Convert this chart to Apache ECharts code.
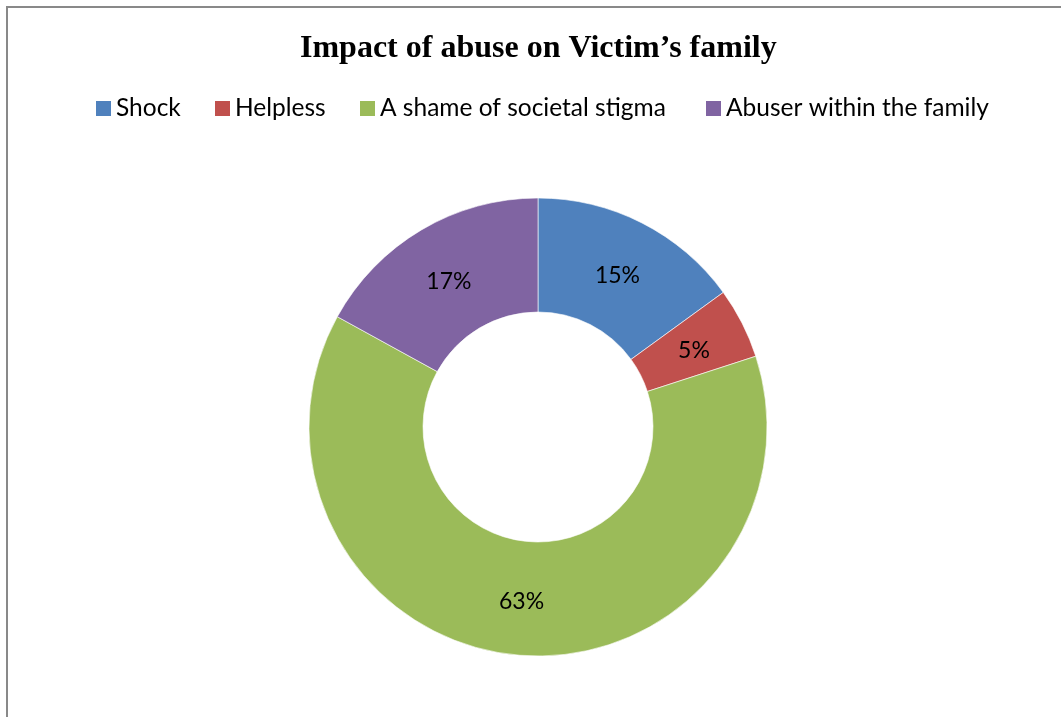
<!DOCTYPE html>
<html>
<head>
<meta charset="utf-8">
<style>
  html, body { margin: 0; padding: 0; background: #fff; }
  #chart { width: 1061px; height: 717px; }
</style>
<script src="https://cdn.jsdelivr.net/npm/echarts@6/dist/echarts.min.js"></script>
</head>
<body>
<div id="chart"></div>
<script>
// Responses on how abuse affected the victim's family (percent of respondents)
const categories = ['Shock', 'Helpless', 'A shame of societal stigma', 'Abuser within the family'];
const values = [15, 5, 63, 17];
const colors = ['#4F81BD', '#C0504D', '#9BBB59', '#8064A2'];
const titleText = 'Impact of abuse on Victim\u2019s family';

// left edge of each legend entry
const legendLefts = [96, 215, 360, 706];
// small vertical nudges for the in-ring percentage labels
const labelNudges = [5, 3, 0, 5];

const chart = echarts.init(document.getElementById('chart'), null, { renderer: 'canvas' });

const legends = categories.map((name, i) => ({
  data: [name],
  left: legendLefts[i],
  top: 96,
  padding: 0,
  icon: 'rect',
  itemWidth: 15,
  itemHeight: 15,
  itemGap: 6,
  itemStyle: { borderWidth: 0 },
  selectedMode: false,
  textStyle: { fontFamily: 'Lato', fontSize: 24.5, color: '#000' }
}));

chart.setOption({
  backgroundColor: '#fff',
  animation: false,
  color: colors,
  title: {
    text: titleText,
    left: 295,
    top: 28,
    textStyle: { fontFamily: 'Liberation Serif', fontWeight: 'bold', fontSize: 32, color: '#000' }
  },
  legend: legends,
  graphic: [{
    type: 'rect',
    shape: { x: 7, y: 7, width: 1200, height: 900 },
    style: { fill: null, stroke: '#898989', lineWidth: 2 },
    silent: true
  }],
  series: [{
    type: 'pie',
    center: [538, 427],
    radius: [115, 229],
    startAngle: 90,
    clockwise: true,
    avoidLabelOverlap: false,
    itemStyle: { borderColor: '#ffffff', borderWidth: 0.6 },
    label: {
      show: true,
      position: 'inside',
      formatter: '{c}%',
      fontFamily: 'Lato',
      fontSize: 23,
      color: '#000'
    },
    labelLine: { show: false },
    emphasis: { disabled: true },
    data: categories.map((name, i) => ({
      name: name,
      value: values[i],
      label: { offset: [0, labelNudges[i]] }
    }))
  }]
});
</script>
</body>
</html>
